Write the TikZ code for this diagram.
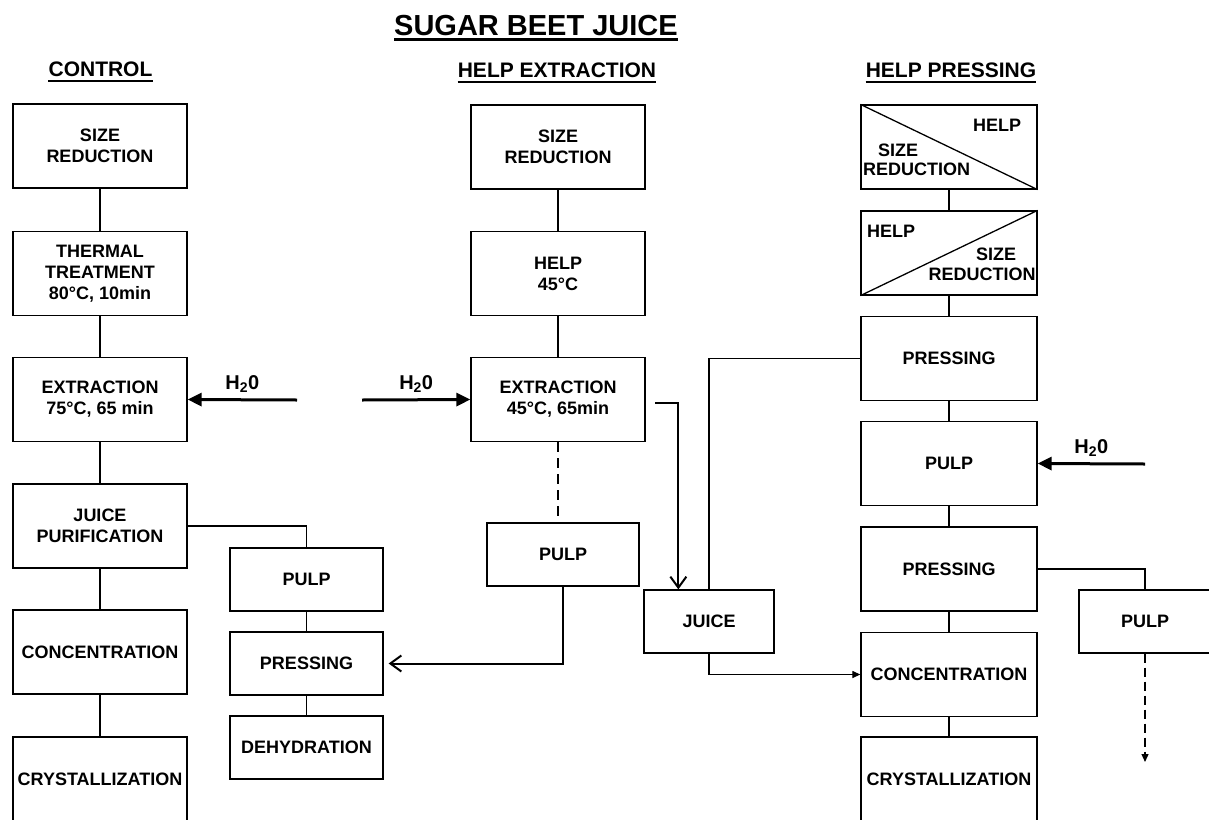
\documentclass[tikz,border=0pt]{standalone}
\usepackage{fontspec}
\setmainfont{Liberation Sans}
\usetikzlibrary{arrows.meta}

\tikzset{stage/.style = {draw, line width=1.3pt, inner sep=0pt, align=center,
                         minimum width=#1, minimum height=84pt,
                         font=\bfseries\fontsize{18}{21}\selectfont},
         stage/.default=174pt,
         subbox/.style = {stage=#1, minimum height=63pt},
         subbox/.default=153pt,
         boxtext/.style = {inner sep=0pt, font=\bfseries\fontsize{18}{21}\selectfont},
         heading/.style = {inner sep=0pt, anchor=base, font=\bfseries\fontsize{21}{24}\selectfont},
         link/.style = {line width=1.2pt},
         water/.style = {line width=3pt, -{Triangle[length=14pt,width=13pt]}},
         waterlabel/.style = {above=6pt, inner sep=0pt, font=\bfseries\fontsize{20}{24}\selectfont},
         flow/.style = {line width=2pt, -{Straight Barb[length=11pt,width=16pt]}},
         smalltip/.style = {-{Triangle[length=8pt,width=7pt]}}
        }

\begin{document}
\begin{tikzpicture}[x=1pt, y=-1pt]
  \useasboundingbox[fill=white] (0,0) rectangle (1209,819);
  \clip (0,0) rectangle (1209,819);
  % titles
  \node[heading, font=\bfseries\fontsize{29}{32}\selectfont] (title) at (536,35) {SUGAR BEET JUICE};
  \node[heading] (hc) at (100.5,76) {CONTROL};
  \node[heading] (he) at (557,77) {HELP EXTRACTION};
  \node[heading] (hp) at (951,77) {HELP PRESSING};
  \draw[line width=2.5pt] ([yshift=-4.5pt]title.base west) -- ([yshift=-4.5pt]title.base east);
  \foreach \h in {hc, he, hp}
      {\draw[line width=2pt] ([yshift=-4.5pt]\h.base west) -- ([yshift=-4.5pt]\h.base east);};
  % control
  \foreach \n/\y/\t in {c1/146/{SIZE\\REDUCTION}, c2/273.5/{THERMAL\\TREATMENT\\80°C, 10min},
                        c3/399.5/{EXTRACTION\\75°C, 65 min}, c4/526/{JUICE\\PURIFICATION},
                        c5/652/CONCENTRATION, c6/779/CRYSTALLIZATION}
      {\node[stage] (\n) at (100,\y) {\t};};
  \foreach \n/\y/\t in {lp1/579.5/PULP, lp2/663.5/PRESSING, lp3/747.5/DEHYDRATION}
      {\node[subbox] (\n) at (306.5,\y) {\t};};
  % help extraction
  \foreach \n/\y/\t in {m1/147/{SIZE\\REDUCTION}, m2/273.5/{HELP\\45°C}, m3/399.5/{EXTRACTION\\45°C, 65min}}
      {\node[stage] (\n) at (558,\y) {\t};};
  \node[subbox=152pt] (mp) at (563,554.5) {PULP};
  \node[subbox=130pt] (juice) at (709,621.5) {JUICE};
  % help pressing
  \node[stage=176pt] (r1) at (949,147) {};
  \node[stage=176pt] (r2) at (949,253) {};
  \foreach \n/\y/\t in {r3/358.5/PRESSING, r4/463.5/PULP, r5/569/PRESSING,
                        r6/674.5/CONCENTRATION, r7/779/CRYSTALLIZATION}
      {\node[stage=176pt] (\n) at (949,\y) {\t};};
  \node[subbox=132pt] (rp) at (1145,621.5) {PULP};
  \draw[line width=1.3pt] (r1.north west) -- (r1.south east);
  \draw[line width=1.3pt] (r2.south west) -- (r2.north east);
  \node[boxtext] (r1a) at (997,125.5) {HELP};
  \node[boxtext] (r1b) at (898,150) {SIZE};
  \node[boxtext] (r1c) at (916.5,169) {REDUCTION};
  \node[boxtext] (r2a) at (891,231) {HELP};
  \node[boxtext] (r2b) at (996,254) {SIZE};
  \node[boxtext] (r2c) at (982,274) {REDUCTION};
  % connectors
  \foreach \a/\b in {c1/c2, c2/c3, c3/c4, c4/c5, c5/c6, lp1/lp2, lp2/lp3, m1/m2, m2/m3,
                     r1/r2, r2/r3, r3/r4, r4/r5, r5/r6, r6/r7}
      {\draw[link] (\a) -- (\b);};
  \draw[link] (c4.east) -| (lp1.north);
  \draw[link, dash pattern=on 10pt off 6pt] (m3.south) -- (m3.south |- mp.north);
  \draw[link] (juice.north) |- (r3.west);
  \draw[link, smalltip] (juice.south) |- (r6.west);
  \draw[link] (r5.east) -| (rp.north);
  \coordinate (rpend) at (1145,762);
  \draw[link, smalltip, dash pattern=on 9pt off 5pt] (rp.south) -- (rpend);
  \coordinate (w1) at (297,400);
  \coordinate (w2) at (362,400);
  \coordinate (w3) at (1145,464);
  \draw[water] (w1) -- node[waterlabel] (h2oa) {H\textsubscript{2}0} (c3.east);
  \draw[water] (w2) -- node[waterlabel] (h2ob) {H\textsubscript{2}0} (m3.west);
  \draw[water] (w3) -- node[waterlabel] (h2oc) {H\textsubscript{2}0} (r4.east);
  \coordinate (e1) at (655,403);
  \draw[flow] (e1) -| ([xshift=35pt]juice.north west);
  \draw[flow] (mp.south) |- ([xshift=5pt]lp2.east);
\end{tikzpicture}
\end{document}
